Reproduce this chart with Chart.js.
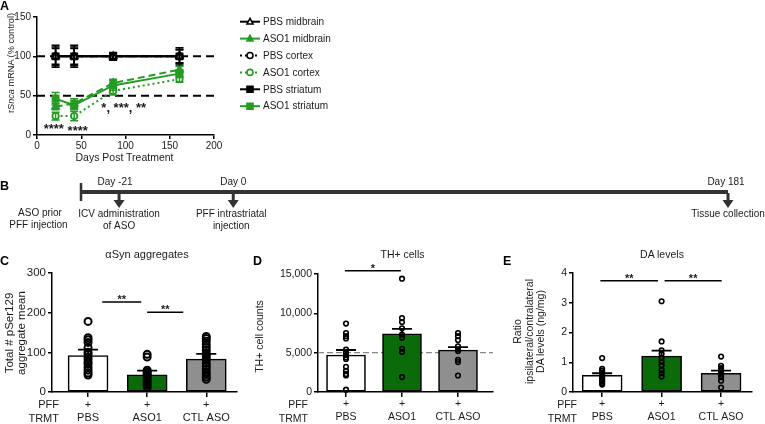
<!DOCTYPE html>
<html><head><meta charset="utf-8">
<script src="https://cdn.jsdelivr.net/npm/chart.js@4.4.1/dist/chart.umd.min.js"></script>
<style>
html,body{margin:0;padding:0;background:#fff;}
body{width:765px;height:424px;position:relative;overflow:hidden;font-family:'Liberation Sans',Arial,Helvetica,sans-serif;color:#1a1a1a;}
canvas{position:absolute;}
.t{position:absolute;white-space:nowrap;line-height:1;color:#1a1a1a;}
.lbl{position:absolute;font-weight:bold;font-size:12.5px;line-height:1;color:#000;}
</style></head>
<body>
<canvas id="cA" width="360" height="170" style="left:0;top:0"></canvas>
<canvas id="cB" width="765" height="65" style="left:0;top:170px"></canvas>
<canvas id="cC" width="250" height="184" style="left:0;top:240px"></canvas>
<canvas id="cD" width="250" height="184" style="left:250px;top:240px"></canvas>
<canvas id="cE" width="260" height="184" style="left:505px;top:240px"></canvas>
<div class="lbl" style="left:0;top:0">A</div>
<div class="lbl" style="left:0;top:180px">B</div>
<div class="lbl" style="left:0;top:255px">C</div>
<div class="lbl" style="left:253px;top:255px">D</div>
<div class="lbl" style="left:503px;top:255px">E</div>
<script>
// ---------- DATA ----------
// Panel A: rSnca mRNA (% control) vs days post treatment
const days = [21, 42, 86, 161];
const pbsMidbrain = [100, 100, 100, 100];
const pbsMidbrainErr = [14, 14, 5, 11];
const aso1Midbrain = [36, 40, 66, 83];
const aso1MidbrainErr = [4, 6, 5, 4];
const pbsCortex = [100, 100, 100, 100];
const pbsCortexErr = [10, 10, 3, 8];
const aso1Cortex = [24, 24, 56, 71];
const aso1CortexErr = [5, 6, 5, 4];
const pbsStriatum = [100, 100, 100, 100];
const pbsStriatumErr = [12, 12, 4, 9];
const aso1Striatum = [46, 38, 63, 78];
const aso1StriatumErr = [8, 6, 6, 5];
const refLevelsA = [100, 50];
const xTicksA = [0, 50, 100, 150, 200];
const yTicksA = [0, 50, 100, 150];
const sigA = [{x: 19, y: 11, text: '****'}, {x: 46, y: 8, text: '****'}, {x: 98, y: 38, text: '*, ***, **'}];

// Panel B: timeline (schematic steps)
const timelineSpan = [0, 17];
const timelineEvents = [
  {step: 1, day: 'Day -21', lines: ['ICV administration', 'of ASO']},
  {step: 4, day: 'Day 0', lines: ['PFF intrastriatal', 'injection']},
  {step: 17, day: 'Day 181', lines: ['Tissue collection']}
];

// Bar panels
const groups = ['PBS', 'ASO1', 'CTL ASO'];
const pffRow = ['+', '+', '+'];

const aggMeans = [92, 43, 83];
const aggSem = [15, 11, 13];
const aggDots = [
  [178, 137, 132, 125, 112, 100, 95, 88, 82, 75, 70, 62, 55, 48, 43],
  [95, 88, 55, 50, 46, 42, 36, 30, 24, 18, 12],
  [140, 135, 128, 120, 112, 105, 98, 92, 86, 80, 72, 65, 58, 50, 44, 38, 32]
];
const aggTicks = [0, 100, 200, 300];
const aggSig = [{x1: 0.24, x2: 0.9, y: 227, text: '**'}, {x1: 1.0, x2: 1.61, y: 201, text: '**'}];

const thMeans = [4700, 7400, 5340];
const thSem = [640, 620, 360];
const thDots = [
  [8700, 7500, 7100, 6800, 5400, 5000, 4700, 4400, 4200, 3200, 2700, 2300, 2100, 300],
  [14400, 9400, 8900, 8100, 7300, 6900, 5500, 5100, 1900],
  [7500, 7100, 6600, 5800, 5400, 5200, 4100, 3800, 2100]
];
const thTicks = [0, 5000, 10000, 15000];
const thRef = 5000;
const thSig = [{x1: -0.02, x2: 0.98, y: 15420, text: '*'}];

const daMeans = [0.56, 1.21, 0.63];
const daSem = [0.07, 0.18, 0.09];
const daDots = [
  [1.14, 0.78, 0.72, 0.66, 0.6, 0.55, 0.5, 0.45, 0.4, 0.35, 0.3, 0.25],
  [3.05, 1.7, 1.4, 1.28, 1.15, 1.02, 0.9, 0.74, 0.63, 0.52],
  [1.19, 0.88, 0.8, 0.74, 0.66, 0.58, 0.5, 0.38, 0.15]
];
const daTicks = [0, 1, 2, 3, 4];
const daSig = [{x1: -0.03, x2: 0.94, y: 3.74, text: '**'}, {x1: 1.05, x2: 2.01, y: 3.74, text: '**'}];

// ---------- STYLE ----------
const FONT = "'Liberation Sans', Arial, Helvetica, sans-serif";
const INK = '#1a1a1a';
const GREEN = '#249c24';
const BAR_COLORS = ['#ffffff', '#0b6b0b', '#8f8f8f'];
Chart.defaults.font.family = FONT;
Chart.defaults.color = INK;
Chart.defaults.animation = false;
Chart.defaults.responsive = false;
Chart.defaults.devicePixelRatio = 1;
Chart.defaults.plugins.legend.display = false;
Chart.defaults.plugins.tooltip.enabled = false;

function txt(html, x, y, size, o) {
  o = o || {};
  const d = document.createElement('div');
  d.className = 't';
  d.innerHTML = html;
  d.style.fontSize = size + 'px';
  if (o.lh) d.style.lineHeight = o.lh + 'px';
  d.style.textAlign = o.align === 'right' ? 'right' : 'center';
  document.body.appendChild(d);
  let w = Math.ceil(d.getBoundingClientRect().width), h = Math.ceil(d.getBoundingClientRect().height);
  if (o.rot && ((w - h) % 2 !== 0)) w += 1;
  d.style.width = w + 'px';
  d.style.height = h + 'px';
  const left = o.align === 'right' ? x - w : x - w / 2;
  d.style.left = Math.round(left) + 'px';
  d.style.top = Math.round(y - h / 2) + 'px';
  if (o.rot) d.style.transform = 'rotate(-90deg)';
}

function marker(ctx, style, x, y, r, color, filled, lw) {
  ctx.save();
  ctx.setLineDash([]);
  ctx.lineWidth = lw;
  ctx.strokeStyle = color;
  ctx.fillStyle = filled ? color : '#fff';
  ctx.beginPath();
  if (style === 'circle') ctx.arc(x, y, r, 0, Math.PI * 2);
  else if (style === 'rect') ctx.rect(x - r, y - r, 2 * r, 2 * r);
  else { ctx.moveTo(x, y - r * 1.1); ctx.lineTo(x + r, y + r * 0.75); ctx.lineTo(x - r, y + r * 0.75); ctx.closePath(); }
  ctx.fill(); ctx.stroke();
  ctx.restore();
}

function axisCommon(fontSize) {
  return {
    grid: {display: true, drawOnChartArea: false, drawTicks: true, tickLength: 4, color: '#000', lineWidth: 1.5, offset: false},
    border: {display: true, color: '#000', width: 1.5},
    ticks: {font: {size: fontSize}, color: INK, padding: 2, autoSkip: false, maxRotation: 0}
  };
}

// ---------- PANEL A ----------
const seriesA = [
  {label: 'PBS midbrain', v: pbsMidbrain, e: pbsMidbrainErr, color: '#000', dash: [], legDash: [], style: 'triangle', filled: false},
  {label: 'ASO1 midbrain', v: aso1Midbrain, e: aso1MidbrainErr, color: GREEN, dash: [7, 4], legDash: [], style: 'triangle', filled: true},
  {label: 'PBS cortex', v: pbsCortex, e: pbsCortexErr, color: '#000', dash: [2, 3], legDash: [2, 3], style: 'circle', filled: false},
  {label: 'ASO1 cortex', v: aso1Cortex, e: aso1CortexErr, color: GREEN, dash: [2, 3], legDash: [2, 3], style: 'circle', filled: false},
  {label: 'PBS striatum', v: pbsStriatum, e: pbsStriatumErr, color: '#000', dash: [], legDash: [], style: 'rect', filled: true},
  {label: 'ASO1 striatum', v: aso1Striatum, e: aso1StriatumErr, color: GREEN, dash: [], legDash: [], style: 'rect', filled: true}
];
const axA = axisCommon(10);
new Chart(document.getElementById('cA'), {
  type: 'line',
  data: {
    datasets: seriesA.map(s => ({
      label: s.label,
      data: days.map((d, i) => ({x: d, y: s.v[i]})),
      borderColor: s.color, borderWidth: 2, borderDash: s.dash,
      pointStyle: s.style, pointRadius: s.style === 'rect' ? 4.3 : (s.style === 'triangle' ? 4 : 3.2),
      pointBorderWidth: 1.8, pointBorderColor: s.color,
      pointBackgroundColor: s.filled ? s.color : '#fff',
      tension: 0, clip: false, fill: false
    }))
  },
  options: {
    layout: {padding: {left: 0, top: 17, right: 146, bottom: 0}},
    scales: {
      x: {type: 'linear', min: 0, max: 200, grid: axA.grid, border: axA.border,
          ticks: Object.assign({}, axA.ticks, {stepSize: 50, padding: 1}),
          afterBuildTicks: s => { s.ticks = xTicksA.map(v => ({value: v})); },
          afterFit: s => { s.height = 35; }},
      y: {type: 'linear', min: 0, max: 150, grid: axA.grid, border: axA.border,
          ticks: Object.assign({}, axA.ticks, {stepSize: 50}),
          afterBuildTicks: s => { s.ticks = yTicksA.map(v => ({value: v})); },
          afterFit: s => { s.width = 37; }}
    }
  },
  plugins: [{
    id: 'extrasA',
    beforeDatasetsDraw(c) {
      const ctx = c.ctx, xs = c.scales.x, ys = c.scales.y;
      ctx.save();
      ctx.strokeStyle = '#000'; ctx.lineWidth = 2; ctx.setLineDash([8, 5]);
      refLevelsA.forEach(v => {
        const y = ys.getPixelForValue(v);
        ctx.beginPath(); ctx.moveTo(xs.getPixelForValue(0), y); ctx.lineTo(xs.getPixelForValue(200) + 2, y); ctx.stroke();
      });
      ctx.restore();
    },
    afterDatasetsDraw(c) {
      const ctx = c.ctx, ys = c.scales.y;
      ctx.save();
      seriesA.forEach((s, di) => {
        const meta = c.getDatasetMeta(di);
        ctx.strokeStyle = s.color; ctx.lineWidth = 1.5; ctx.setLineDash([]);
        meta.data.forEach((pt, i) => {
          const yt = ys.getPixelForValue(s.v[i] + s.e[i]), yb = ys.getPixelForValue(s.v[i] - s.e[i]);
          ctx.beginPath();
          ctx.moveTo(pt.x, yt); ctx.lineTo(pt.x, yb);
          ctx.moveTo(pt.x - 4, yt); ctx.lineTo(pt.x + 4, yt);
          ctx.moveTo(pt.x - 4, yb); ctx.lineTo(pt.x + 4, yb);
          ctx.stroke();
        });
      });
      ctx.restore();
    },
    afterDraw(c) {
      const ctx = c.ctx, xs = c.scales.x, ys = c.scales.y;
      ctx.save();
      ctx.fillStyle = INK; ctx.font = 'bold 13px ' + FONT; ctx.textAlign = 'center'; ctx.textBaseline = 'middle';
      sigA.forEach(s => ctx.fillText(s.text, xs.getPixelForValue(s.x), ys.getPixelForValue(s.y) + 3));
      // legend
      const lx1 = 240, lx2 = 260, tx = 263;
      ctx.font = '10px ' + FONT; ctx.textAlign = 'left';
      seriesA.forEach((s, i) => {
        const y = 21.7 + i * 16.9;
        ctx.strokeStyle = s.color; ctx.lineWidth = 2; ctx.setLineDash(s.legDash);
        ctx.beginPath(); ctx.moveTo(lx1, y); ctx.lineTo(lx2, y); ctx.stroke();
        marker(ctx, s.style, (lx1 + lx2) / 2, y, 3, s.color, s.filled, 1.6);
        ctx.fillStyle = INK; ctx.fillText(s.label, tx, y + 0.5);
      });
      ctx.restore();
    }
  }]
});
txt('r<i>Snca</i> mRNA (% control)', 12, 63, 9.2, {rot: true});
txt('Days Post Treatment', 124, 157, 10.5);

// ---------- PANEL B ----------
new Chart(document.getElementById('cB'), {
  type: 'line',
  data: {datasets: [{data: timelineSpan.map(s => ({x: s, y: 0})), borderColor: '#333', borderWidth: 4, pointRadius: 0, clip: false}]},
  options: {
    layout: {padding: {left: 81, right: 37, top: 12, bottom: 33}},
    scales: {x: {type: 'linear', min: timelineSpan[0], max: timelineSpan[1], display: false},
             y: {type: 'linear', min: -1, max: 1, display: false}}
  },
  plugins: [{
    id: 'timeline',
    afterDraw(c) {
      const ctx = c.ctx, xs = c.scales.x, ys = c.scales.y, y0 = ys.getPixelForValue(0);
      ctx.save();
      ctx.strokeStyle = '#333'; ctx.fillStyle = '#333'; ctx.lineWidth = 2.5;
      const xs0 = xs.getPixelForValue(timelineSpan[0]);
      ctx.beginPath(); ctx.moveTo(xs0, y0 - 9); ctx.lineTo(xs0, y0 + 9); ctx.stroke();
      timelineEvents.forEach(ev => {
        const x = xs.getPixelForValue(ev.step);
        ctx.lineWidth = 3;
        ctx.beginPath(); ctx.moveTo(x, y0 + 1); ctx.lineTo(x, y0 + 9); ctx.stroke();
        ctx.beginPath(); ctx.moveTo(x - 5.5, y0 + 8); ctx.lineTo(x + 5.5, y0 + 8); ctx.lineTo(x, y0 + 16); ctx.closePath(); ctx.fill();
        ctx.fillStyle = INK; ctx.font = '10px ' + FONT; ctx.textAlign = 'center'; ctx.textBaseline = 'middle';
        ctx.fillText(ev.day, x - (ev.step === 1 ? 4 : (ev.step === 17 ? 2 : 0)), y0 - 10);
        ev.lines.forEach((ln, k) => ctx.fillText(ln, x + (ev.step === 4 ? -2 : 0), y0 + 22 + k * 12));
        ctx.fillStyle = '#333';
      });
      ctx.restore();
    }
  }]
});
txt('ASO prior', 40, 213, 10);
txt('PFF injection', 38, 225, 10);

// ---------- BAR PANELS ----------
function barPanel(id, p) {
  const ax = axisCommon(p.tickSize);
  new Chart(document.getElementById(id), {
    type: 'bar',
    data: {
      datasets: [
        {type: 'bar', data: p.means.map((m, i) => ({x: i, y: m})), backgroundColor: BAR_COLORS,
         borderColor: '#000', borderWidth: 1.6, borderSkipped: false, barThickness: p.barW, order: 2},
        {type: 'scatter', data: p.dots.flatMap((arr, i) => arr.map(v => ({x: i, y: v}))),
         pointRadius: p.dotR, pointBorderWidth: p.dotLw, pointBorderColor: '#000',
         pointBackgroundColor: 'rgba(0,0,0,0)', order: 1, clip: false}
      ]
    },
    options: {
      layout: {padding: {left: 0, top: p.top, right: p.right, bottom: 0}},
      scales: {
        x: {type: 'linear', min: p.xmin, max: p.xmax, offset: false, grid: Object.assign({}, ax.grid, {tickLength: 5}), border: ax.border,
            ticks: Object.assign({}, ax.ticks, {font: {size: p.catSize}, padding: 1, callback: v => [pffRow[v], groups[v]]}),
            afterBuildTicks: s => { s.ticks = groups.map((g, i) => ({value: i})); },
            afterFit: s => { s.height = 32; }},
        y: {type: 'linear', min: 0, max: p.ticks[p.ticks.length - 1], grid: ax.grid, border: ax.border,
            ticks: Object.assign({}, ax.ticks, {callback: v => p.fmt ? v.toLocaleString('en-US') : v}),
            afterBuildTicks: s => { s.ticks = p.ticks.map(v => ({value: v})); },
            afterFit: s => { s.width = p.yw; }}
      }
    },
    plugins: [{
      id: 'extras' + id,
      beforeDatasetsDraw(c) {
        if (p.ref == null) return;
        const ctx = c.ctx, ys = c.scales.y, a = c.chartArea, y = ys.getPixelForValue(p.ref);
        ctx.save(); ctx.strokeStyle = '#888'; ctx.lineWidth = 1.2; ctx.setLineDash([6, 3]);
        ctx.beginPath(); ctx.moveTo(a.left, y); ctx.lineTo(a.right, y); ctx.stroke(); ctx.restore();
      },
      afterDatasetsDraw(c) {
        const ctx = c.ctx, xs = c.scales.x, ys = c.scales.y;
        ctx.save(); ctx.strokeStyle = '#000'; ctx.lineWidth = 1.8;
        p.means.forEach((m, i) => {
          const x = xs.getPixelForValue(i), y1 = ys.getPixelForValue(m), y2 = ys.getPixelForValue(m + p.sem[i]);
          ctx.beginPath(); ctx.moveTo(x, y1); ctx.lineTo(x, y2); ctx.moveTo(x - 10, y2); ctx.lineTo(x + 10, y2); ctx.stroke();
        });
        ctx.restore();
      },
      afterDraw(c) {
        const ctx = c.ctx, xs = c.scales.x, ys = c.scales.y;
        ctx.save(); ctx.strokeStyle = '#000'; ctx.fillStyle = INK; ctx.lineWidth = 1.5;
        ctx.font = 'bold ' + p.sigSize + 'px ' + FONT; ctx.textAlign = 'center'; ctx.textBaseline = 'alphabetic';
        p.sig.forEach(s => {
          const x1 = xs.getPixelForValue(s.x1), x2 = xs.getPixelForValue(s.x2), y = ys.getPixelForValue(s.y);
          ctx.beginPath(); ctx.moveTo(x1, y); ctx.lineTo(x2, y); ctx.stroke();
          ctx.fillText(s.text, (x1 + x2) / 2, y + 1);
        });
        ctx.restore();
      }
    }]
  });
}

barPanel('cC', {means: aggMeans, sem: aggSem, dots: aggDots, ticks: aggTicks, sig: aggSig,
  xmin: -0.61, xmax: 2.52, yw: 52, top: 33, right: 13, barW: 40, dotR: 3.5, dotLw: 2,
  tickSize: 11.5, catSize: 11, sigSize: 11});
barPanel('cD', {means: thMeans, sem: thSem, dots: thDots, ticks: thTicks, sig: thSig, ref: thRef, fmt: true,
  xmin: -0.5, xmax: 2.625, yw: 68, top: 34, right: 7, barW: 39, dotR: 2.3, dotLw: 1.6,
  tickSize: 10.5, catSize: 10.5, sigSize: 11});
barPanel('cE', {means: daMeans, sem: daSem, dots: daDots, ticks: daTicks, sig: daSig,
  xmin: -0.49, xmax: 2.52, yw: 68, top: 33, right: 13, barW: 40, dotR: 2.3, dotLw: 1.6,
  tickSize: 10.5, catSize: 10.5, sigSize: 11});

// titles & labels
txt('αSyn aggregates', 147, 254, 11);
txt('TH+ cells', 402, 254, 10.5);
txt('DA levels', 662, 254, 10.5);
txt('Total # pSer129<br>aggregate mean', 14.5, 333, 11.5, {rot: true, lh: 12});
txt('TH+ cell counts', 259, 336, 10.5, {rot: true});
txt('Ratio<br>ipsilateral/contralateral<br>DA levels (ng/mg)', 529, 331, 10.5, {rot: true, lh: 11.5});
txt('PFF', 59, 404, 11, {align: 'right'});
txt('TRMT', 59, 418, 11, {align: 'right'});
txt('PFF', 308, 404, 10.5, {align: 'right'});
txt('TRMT', 308, 418, 10.5, {align: 'right'});
txt('PFF', 577, 404, 10.5, {align: 'right'});
txt('TRMT', 577, 418, 10.5, {align: 'right'});
</script>
</body></html>
